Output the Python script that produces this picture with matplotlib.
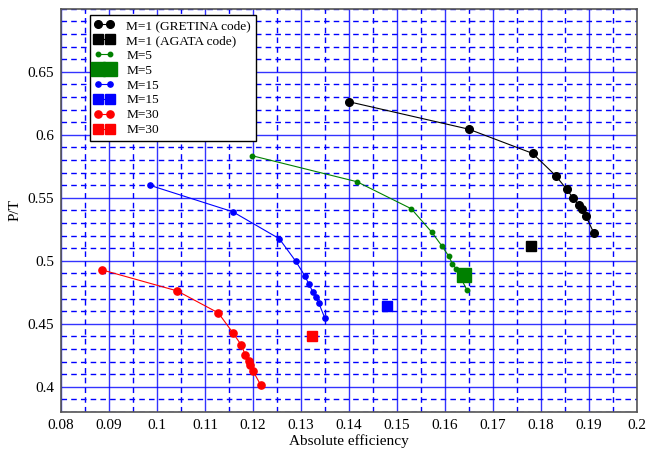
import matplotlib
matplotlib.use("Agg")
import matplotlib.pyplot as plt
from matplotlib.ticker import MultipleLocator

plt.rcParams['font.family'] = ['Liberation Serif', 'DejaVu Serif']

# M=1 GRETINA
m1_x = [0.1401, 0.1650, 0.1783, 0.1832, 0.1854, 0.1868, 0.1879, 0.1886, 0.1894, 0.1911]
m1_y = [0.6261, 0.6044, 0.5852, 0.5672, 0.5567, 0.5495, 0.5442, 0.5408, 0.5355, 0.5218]
m1_agata_x = [0.1779]
m1_agata_y = [0.5117]

# M=5
m5_x = [0.1199, 0.1417, 0.1530, 0.1573, 0.1594, 0.1608, 0.1616, 0.1624, 0.1646]
m5_y = [0.5833, 0.5627, 0.5413, 0.5226, 0.5117, 0.5038, 0.4975, 0.4933, 0.4769]
m5_agata_x = [0.1640]
m5_agata_y = [0.4888]

# M=15
m15_x = [0.0986, 0.1158, 0.1255, 0.1289, 0.1308, 0.1317, 0.1325, 0.1331, 0.1337, 0.1350]
m15_y = [0.5598, 0.5389, 0.5175, 0.4998, 0.4882, 0.4813, 0.4753, 0.4716, 0.4668, 0.4544]
m15_agata_x = [0.1480]
m15_agata_y = [0.4642]

# M=30
m30_x = [0.0886, 0.1042, 0.1128, 0.1158, 0.1176, 0.1184, 0.1191, 0.1195, 0.1200, 0.1216]
m30_y = [0.4927, 0.4761, 0.4586, 0.4430, 0.4330, 0.4254, 0.4206, 0.4169, 0.4127, 0.4016]
m30_agata_x = [0.1323]
m30_agata_y = [0.4399]

labels = ["M=1 (GRETINA code)", "M=1 (AGATA code)", "M=5", "M=5",
          "M=15", "M=15", "M=30", "M=30"]

fig = plt.figure(figsize=(6.46, 4.51), dpi=100)
ax = fig.add_axes([0.0944, 0.0865, 0.8912, 0.8942])

ax.plot(m1_x, m1_y, '-o', color='black', lw=0.8, ms=5.5, label=labels[0])
ax.plot(m1_agata_x, m1_agata_y, '-s', color='black', lw=0.8, ms=6.5, label=labels[1])
ax.plot(m5_x, m5_y, '-o', color='green', lw=0.8, ms=3.2, label=labels[2])
ax.plot(m5_agata_x, m5_agata_y, '-s', color='green', lw=0.8, ms=10, label=labels[3])
ax.plot(m15_x, m15_y, '-o', color='blue', lw=0.8, ms=3.8, label=labels[4])
ax.plot(m15_agata_x, m15_agata_y, '-s', color='blue', lw=0.8, ms=6.5, label=labels[5])
ax.plot(m30_x, m30_y, '-o', color='red', lw=0.8, ms=5.2, label=labels[6])
ax.plot(m30_agata_x, m30_agata_y, '-s', color='red', lw=0.8, ms=6.5, label=labels[7])

ax.set_xlim(0.08, 0.2)
ax.set_ylim(0.38, 0.70)
ax.xaxis.set_minor_locator(MultipleLocator(0.005))
ax.yaxis.set_minor_locator(MultipleLocator(0.01))
ax.set_xticks([0.08, 0.09, 0.1, 0.11, 0.12, 0.13, 0.14, 0.15, 0.16, 0.17, 0.18, 0.19, 0.2])
ax.set_xticklabels(["0.08", "0.09", "0.1", "0.11", "0.12", "0.13", "0.14", "0.15",
                    "0.16", "0.17", "0.18", "0.19", "0.2"])
ax.set_yticks([0.4, 0.45, 0.5, 0.55, 0.6, 0.65])
ax.set_yticklabels(["0.4", "0.45", "0.5", "0.55", "0.6", "0.65"])

ax.grid(which='major', color='blue', lw=1.0, ls='-', alpha=0.8)
ax.grid(which='minor', color='blue', lw=1.0, ls=(0, (4, 3)))
ax.set_axisbelow(True)
ax.tick_params(which='both', length=0, labelsize=11, pad=5)
for s in ax.spines.values():
    s.set_color('#555555')
    s.set_linewidth(1.2)

ax.set_xlabel("Absolute efficiency", fontsize=11, labelpad=2)
ax.set_ylabel("P/T", fontsize=11, labelpad=4)

leg = ax.legend(loc='upper left', bbox_to_anchor=(0.05, 0.984), numpoints=2,
                fancybox=False, frameon=True, edgecolor='black', framealpha=1,
                fontsize=9.6, labelspacing=0.19, handlelength=1.5,
                handletextpad=0.9, borderpad=0.35, borderaxespad=0)
leg.get_frame().set_linewidth(1.0)

fig.savefig("out.png", dpi=100)
